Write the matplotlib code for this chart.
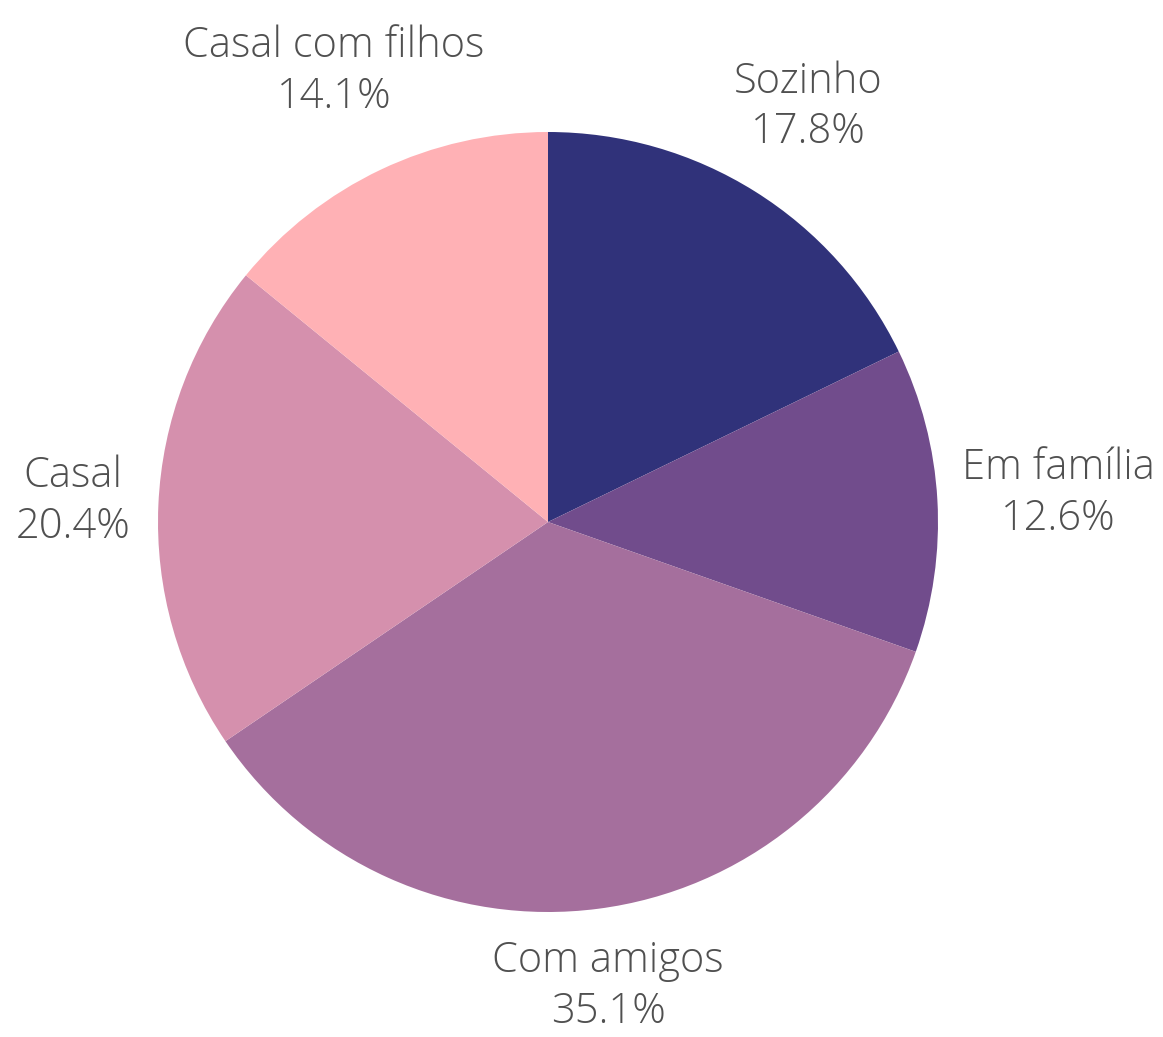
import numpy as np
import matplotlib
matplotlib.use("Agg")
import matplotlib.pyplot as plt

# Data
labels = ["Sozinho", "Em família", "Com amigos", "Casal", "Casal com filhos"]
shares = [17.8, 12.6, 35.1, 20.4, 14.1]
colors = ["#30327a", "#714c8c", "#a56f9d", "#d590ad", "#ffb1b5"]

# label distances (in pie radii), tuned per slice
label_r = [1.256, 1.31, 1.20, 1.22, 1.28]

plt.rcParams['font.family'] = ['Open Sans', 'DejaVu Sans']

W, H = 1163, 1037
fig = plt.figure(figsize=(W / 100, H / 100), dpi=100)
ax = fig.add_axes([0, 0, 1, 1])

cx, cy, R = 548, H - 522, 390
wedges, _ = ax.pie(shares, colors=colors, startangle=90, counterclock=False,
                   center=(cx, cy), radius=R, frame=True,
                   wedgeprops=dict(linewidth=0))
ax.set_xlim(0, W)
ax.set_ylim(0, H)
ax.set_aspect('equal')
ax.axis('off')

for w, lab, val, r in zip(wedges, labels, shares, label_r):
    mid = np.deg2rad((w.theta1 + w.theta2) / 2)
    x = cx + r * R * np.cos(mid)
    y = cy + r * R * np.sin(mid)
    ax.text(x, y, f"{lab}\n{val:.1f}%", ha='center', va='center',
            fontsize=30, fontweight='light', color='#505050', linespacing=1.25)

fig.savefig("out.png", dpi=100, facecolor='white')
